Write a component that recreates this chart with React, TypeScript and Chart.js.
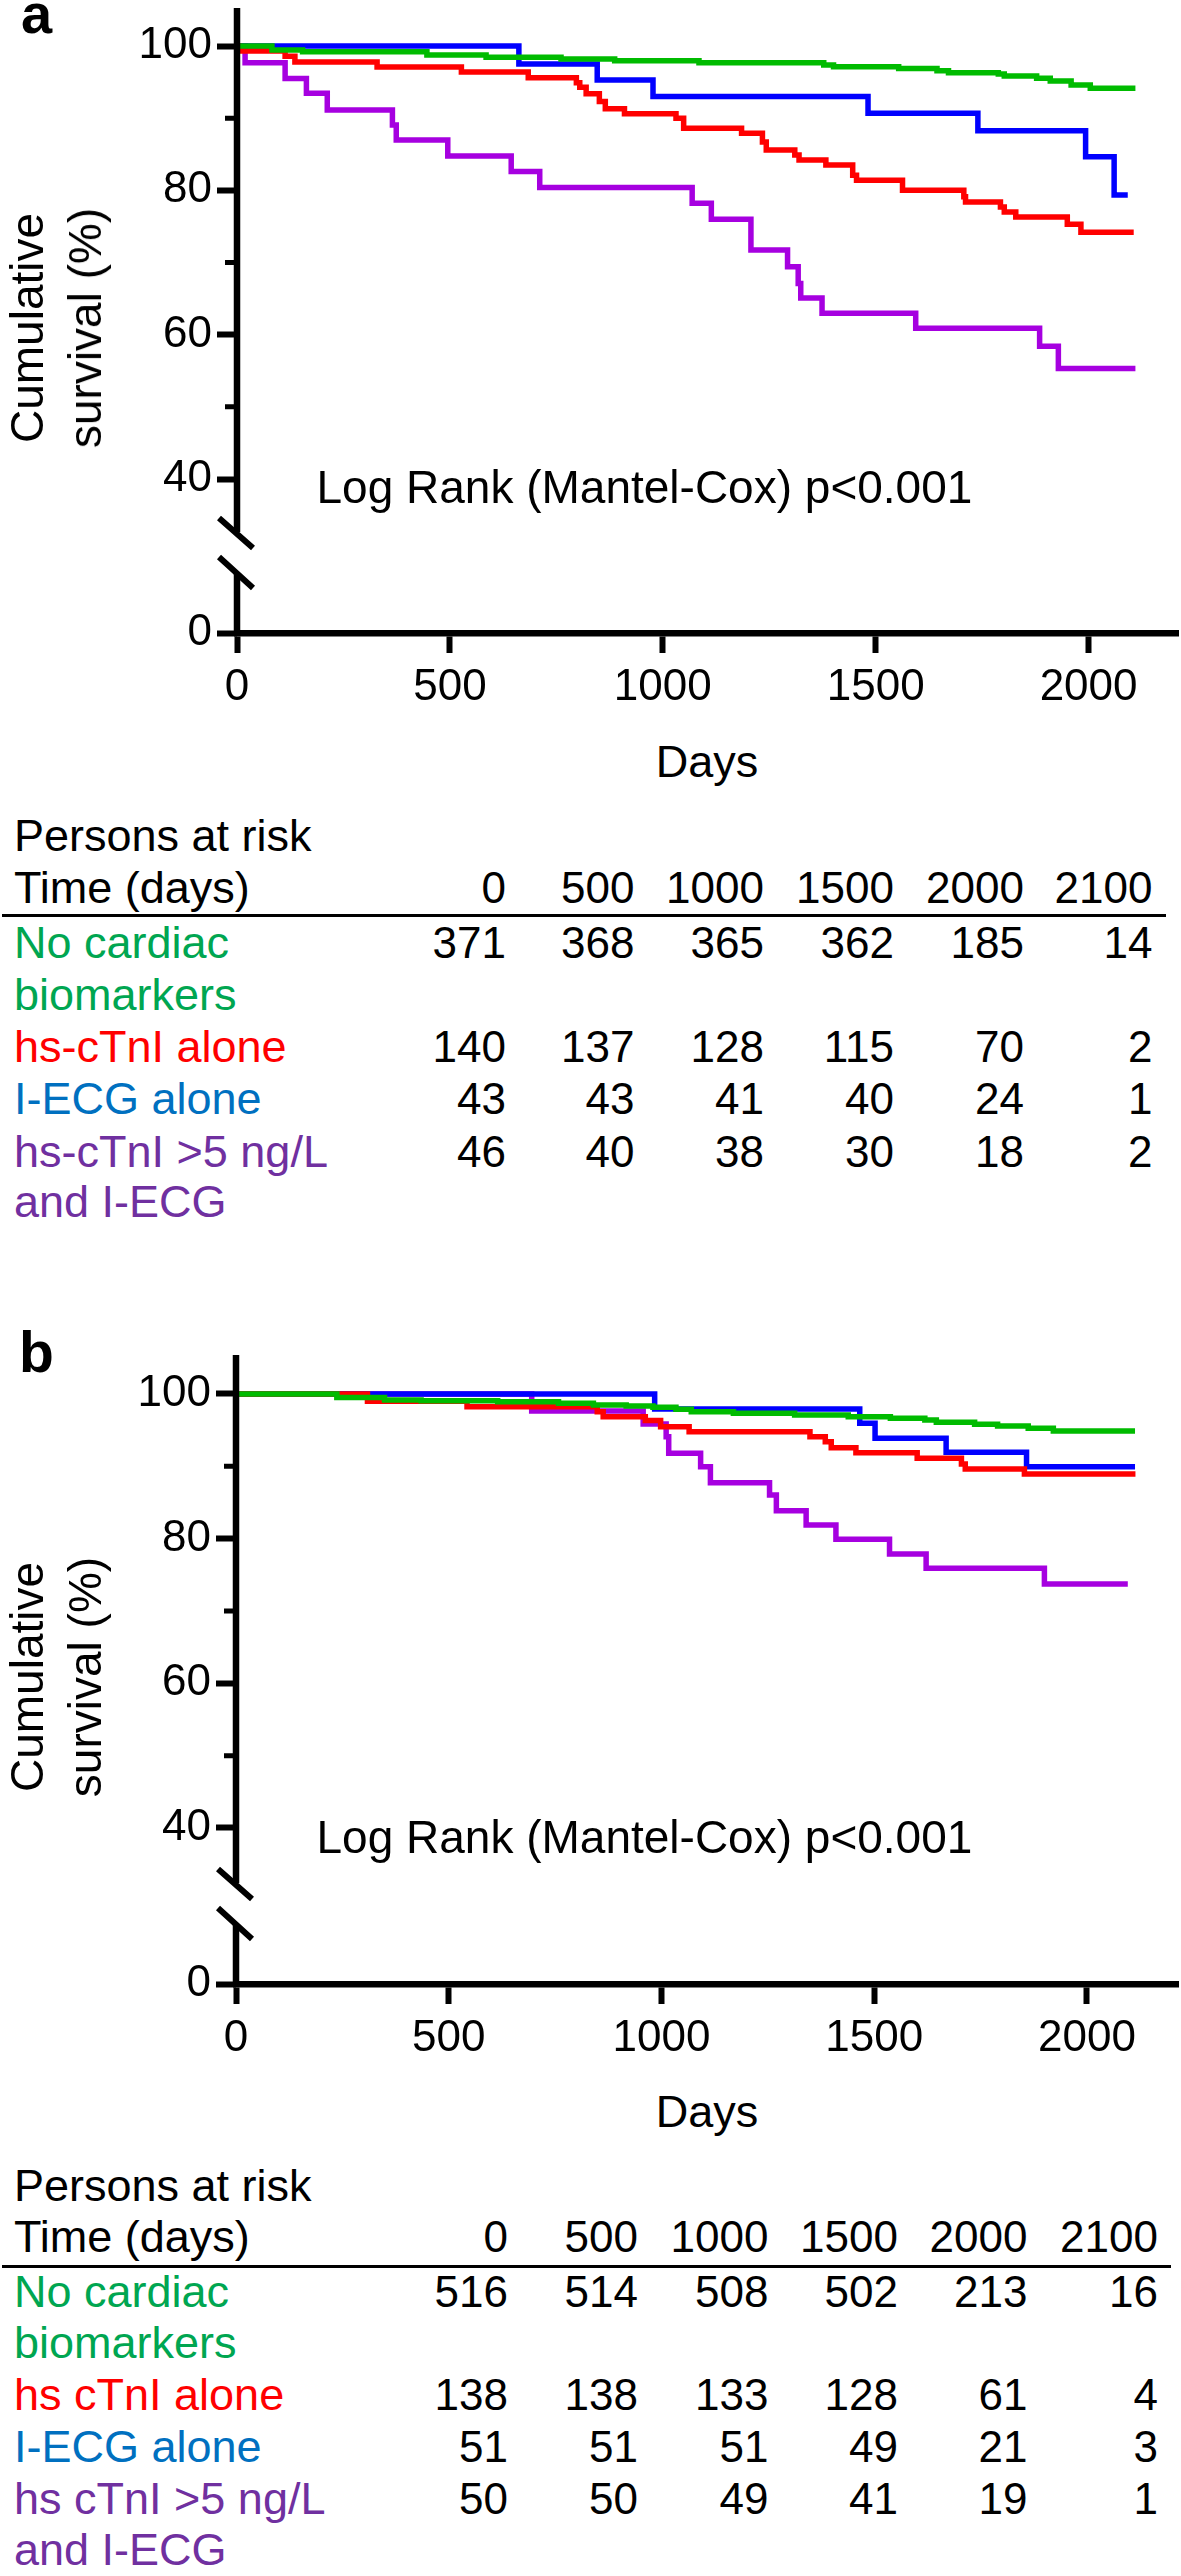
import React, { useEffect, useRef } from 'react';
import { Chart, registerables } from 'chart.js';

Chart.register(...registerables);

const FONT = '"Liberation Sans", Arial, Helvetica, sans-serif';

// ---------- axis ticks ----------
const xTickValues = [0, 500, 1000, 1500, 2000];
const yMajorTicks = [40, 60, 80, 100];
const yMinorTicks = [50, 70, 90];

// ---------- panel a survival curves (days, cumulative survival %) ----------
const aNoneDays = [0, 82, 154, 446, 585, 761, 887, 1085, 1378, 1401, 1554, 1644, 1671, 1788, 1802, 1878, 1910, 1959, 2004, 2110];
const aNoneSurv = [100, 99.45, 99.2, 98.75, 98.43, 98.2, 97.97, 97.69, 97.37, 97.14, 96.9, 96.58, 96.3, 96.12, 95.84, 95.52, 95.15, 94.6, 94.14, 94.14];

const aTnIDays = [0, 4, 113, 136, 329, 527, 684, 797, 805, 820, 851, 865, 910, 1031, 1049, 1185, 1234, 1243, 1310, 1320, 1383, 1446, 1455, 1563, 1707, 1711, 1793, 1802, 1829, 1950, 1982, 2106];
const aTnISurv = [100, 99.3, 98.6, 97.8, 97.1, 96.4, 95.6, 94.9, 94.3, 93.4, 92.3, 91.3, 90.6, 90.0, 88.6, 87.9, 86.7, 85.6, 84.9, 84.2, 83.5, 82.1, 81.4, 80.0, 79.1, 78.4, 77.7, 77.0, 76.3, 75.3, 74.2, 74.2];

const aEcgDays = [0, 662, 846, 977, 1482, 1740, 1993, 2060, 2092];
const aEcgSurv = [100, 97.5, 95.3, 93.0, 90.67, 88.27, 84.67, 79.35, 79.35];

const aBothDays = [0, 19, 113, 163, 212, 365, 374, 495, 644, 711, 1069, 1114, 1207, 1293, 1318, 1324, 1374, 1594, 1885, 1929, 2110];
const aBothSurv = [100, 97.7, 95.5, 93.45, 91.13, 89.05, 86.98, 84.76, 82.6, 80.4, 78.2, 76.0, 71.73, 69.4, 67.1, 65.1, 62.96, 60.9, 58.4, 55.3, 55.3];

// ---------- panel b survival curves ----------
const bNoneDays = [0, 237, 349, 435, 615, 758, 840, 917, 980, 1034, 1070, 1169, 1313, 1439, 1538, 1619, 1646, 1736, 1790, 1862, 1921, 2113];
const bNoneSurv = [100, 99.5, 99.17, 99.05, 98.94, 98.71, 98.48, 98.34, 98.16, 97.88, 97.56, 97.33, 97.1, 96.87, 96.64, 96.4, 96.08, 95.8, 95.58, 95.25, 94.88, 94.88];

const bTnIDays = [0, 309, 543, 849, 863, 962, 998, 1065, 1349, 1385, 1399, 1457, 1601, 1705, 1714, 1853, 2114];
const bTnISurv = [100, 98.99, 98.25, 97.56, 96.87, 96.32, 95.48, 94.79, 94.1, 93.4, 92.58, 91.89, 91.1, 90.32, 89.63, 88.94, 88.94];

const bEcgDays = [0, 984, 1466, 1502, 1669, 1858, 2113];
const bEcgSurv = [100, 97.93, 95.94, 93.87, 91.93, 89.95, 89.95];

const bBothDays = [0, 695, 957, 1011, 1017, 1092, 1115, 1254, 1270, 1340, 1410, 1536, 1622, 1900, 2096];
const bBothSurv = [100, 97.65, 95.85, 94.1, 91.8, 89.95, 87.74, 86.04, 83.87, 81.89, 79.91, 77.88, 75.9, 73.73, 73.73];

// ---------- persons at risk tables ----------
const riskTimes = ['0', '500', '1000', '1500', '2000', '2100'];
const aGroupLabels = [['No cardiac', 'biomarkers'], ['hs-cTnI alone'], ['I-ECG alone'], ['hs-cTnI >5 ng/L', 'and I-ECG']];
const aRiskNone = [371, 368, 365, 362, 185, 14];
const aRiskTnI = [140, 137, 128, 115, 70, 2];
const aRiskEcg = [43, 43, 41, 40, 24, 1];
const aRiskBoth = [46, 40, 38, 30, 18, 2];
const bGroupLabels = [['No cardiac', 'biomarkers'], ['hs cTnI alone'], ['I-ECG alone'], ['hs cTnI >5 ng/L', 'and I-ECG']];
const bRiskNone = [516, 514, 508, 502, 213, 16];
const bRiskTnI = [138, 138, 133, 128, 61, 4];
const bRiskEcg = [51, 51, 51, 49, 21, 3];
const bRiskBoth = [50, 50, 49, 41, 19, 1];

// ---------- styles ----------
const LINE_COLORS = { none: '#00bb00', tni: '#ff0000', ecg: '#0000ff', both: '#a600e0' };
const TEXT_COLORS = ['#00a651', '#ff0000', '#0070c0', '#7030a0'];

type Series = { days: number[]; surv: number[]; color: string };
type Panel = {
  canvasTop: number; height: number; chartTop: number; chartBottom: number; axisX: number;
  yMin: number; yMax: number; xMax: number; series: Series[];
};

const panelA: Panel = {
  canvasTop: 0, height: 720, chartTop: 8, chartBottom: 633, axisX: 237,
  yMin: 18.66, yMax: 105.27, xMax: 2210,
  series: [
    { days: aNoneDays, surv: aNoneSurv, color: LINE_COLORS.none },
    { days: aTnIDays, surv: aTnISurv, color: LINE_COLORS.tni },
    { days: aEcgDays, surv: aEcgSurv, color: LINE_COLORS.ecg },
    { days: aBothDays, surv: aBothSurv, color: LINE_COLORS.both },
  ],
};

const panelB: Panel = {
  canvasTop: 1347, height: 720, chartTop: 8, chartBottom: 637, axisX: 236,
  yMin: 18.43, yMax: 105.39, xMax: 2214,
  series: [
    { days: bNoneDays, surv: bNoneSurv, color: LINE_COLORS.none },
    { days: bTnIDays, surv: bTnISurv, color: LINE_COLORS.tni },
    { days: bEcgDays, surv: bEcgSurv, color: LINE_COLORS.ecg },
    { days: bBothDays, surv: bBothSurv, color: LINE_COLORS.both },
  ],
};

const W = 1181;
const AXIS_RIGHT = 1178;

const axisDeco = {
  id: 'axisDeco',
  afterDatasetsDraw(chart: any) {
    const { ctx, chartArea } = chart;
    const y = chart.scales.y;
    const x0 = y.right;
    const zero = y.getPixelForValue(y.min);
    ctx.save();
    ctx.strokeStyle = '#000';
    ctx.lineCap = 'butt';
    // broken y axis line
    ctx.lineWidth = 6.5;
    ctx.beginPath();
    ctx.moveTo(x0, chartArea.top);
    ctx.lineTo(x0, zero - 101);
    ctx.moveTo(x0, zero - 60);
    ctx.lineTo(x0, zero + 3);
    ctx.stroke();
    // break slashes
    ctx.lineWidth = 6;
    ctx.beginPath();
    ctx.moveTo(x0 - 18, zero - 115);
    ctx.lineTo(x0 + 16, zero - 85);
    ctx.moveTo(x0 - 18, zero - 76);
    ctx.lineTo(x0 + 16, zero - 45);
    ctx.stroke();
    // minor ticks
    ctx.lineWidth = 5;
    ctx.beginPath();
    for (const v of yMinorTicks) {
      const py = y.getPixelForValue(v);
      ctx.moveTo(x0 - 12, py);
      ctx.lineTo(x0, py);
    }
    ctx.stroke();
    ctx.restore();
  },
};

function makeChart(canvas: HTMLCanvasElement, p: Panel) {
  const H = p.height;
  const yTicks = [p.yMin, 40, 50, 60, 70, 80, 90, 100];
  return new Chart(canvas, {
    type: 'line',
    data: {
      datasets: p.series.map((s) => ({
        data: s.days.map((d, i) => ({ x: d, y: s.surv[i] })),
        borderColor: s.color,
        backgroundColor: s.color,
        borderWidth: 5.5,
        pointRadius: 0,
        pointHoverRadius: 0,
        stepped: 'before',
        fill: false,
        tension: 0,
        borderCapStyle: 'butt',
        borderJoinStyle: 'miter',
      })),
    } as any,
    options: {
      responsive: false,
      animation: false,
      devicePixelRatio: 1,
      events: [],
      layout: { padding: { top: p.chartTop, right: W - AXIS_RIGHT, bottom: 0, left: 0 } },
      plugins: { legend: { display: false }, tooltip: { enabled: false }, title: { display: false } },
      scales: {
        x: {
          type: 'linear',
          min: 0,
          max: p.xMax,
          afterBuildTicks: (s: any) => { s.ticks = xTickValues.map((v) => ({ value: v })); },
          afterFit: (s: any) => { s.height = H - p.chartBottom; s.paddingLeft = 0; s.paddingRight = 0; },
          ticks: {
            autoSkip: false, maxRotation: 0, minRotation: 0, padding: 8, color: '#000',
            font: { family: FONT, size: 44 },
            callback: (v: any) => String(v),
          },
          grid: { display: true, drawOnChartArea: false, drawTicks: true, tickLength: 20, tickWidth: 6, tickColor: '#000' },
          border: { display: true, color: '#000', width: 6.5 },
        },
        y: {
          type: 'linear',
          min: p.yMin,
          max: p.yMax,
          afterBuildTicks: (s: any) => { s.ticks = yTicks.map((v) => ({ value: v })); },
          afterFit: (s: any) => { s.width = p.axisX; s.paddingTop = 0; s.paddingBottom = 0; },
          ticks: {
            autoSkip: false, padding: 5, color: '#000',
            font: { family: FONT, size: 44 },
            callback: (v: any) => (v === p.yMin ? '0' : yMajorTicks.includes(v) ? String(v) : ''),
          },
          grid: {
            display: true, drawOnChartArea: false, drawTicks: true, tickLength: 20, tickWidth: 6,
            tickColor: (c: any) => {
              const v = c.tick ? c.tick.value : null;
              return v === p.yMin || yMajorTicks.includes(v) ? '#000' : 'rgba(0,0,0,0)';
            },
          },
          border: { display: false },
        },
      },
    } as any,
    plugins: [axisDeco as any],
  });
}

function Txt(props: { x: number; base: number; size: number; children: any; color?: string; align?: 'left' | 'right' | 'center'; bold?: boolean }) {
  const { x, base, size, children, color = '#000', align = 'left', bold = false } = props;
  const style: any = {
    position: 'absolute', top: base - 0.8465 * size, fontSize: size, lineHeight: `${size}px`,
    whiteSpace: 'nowrap', color, fontWeight: bold ? 'bold' : 'normal', fontFamily: FONT,
  };
  if (align === 'left') style.left = x;
  else if (align === 'right') style.right = W - x;
  else { style.left = x - 300; style.width = 600; style.textAlign = 'center'; }
  return <div style={style}>{children}</div>;
}

function RotTxt(props: { cx: number; cy: number; size: number; children: any }) {
  const { cx, cy, size, children } = props;
  return (
    <div style={{
      position: 'absolute', left: cx, top: cy, fontSize: size, lineHeight: `${size}px`, whiteSpace: 'nowrap',
      fontFamily: FONT, color: '#000', transform: 'translate(-50%, -50%) rotate(-90deg)',
    }}>{children}</div>
  );
}

type TableLayout = {
  personsBase: number; timeBase: number; ruleTop: number; ruleRight: number;
  rowBases: number[]; colRights: number[];
};

function RiskTable(props: { lay: TableLayout; labels: string[][]; rows: number[][] }) {
  const { lay, labels, rows } = props;
  const out: any[] = [];
  out.push(<Txt key="p" x={14} base={lay.personsBase} size={45}>Persons at risk</Txt>);
  out.push(<Txt key="t" x={14} base={lay.timeBase} size={45}>Time (days)</Txt>);
  riskTimes.forEach((t, j) => out.push(<Txt key={'h' + j} x={lay.colRights[j]} base={lay.timeBase} size={44} align="right">{t}</Txt>));
  out.push(<div key="rule" style={{ position: 'absolute', left: 2, top: lay.ruleTop, width: lay.ruleRight - 2, height: 3, background: '#000' }} />);
  let k = 0;
  labels.forEach((lines, i) => {
    lines.forEach((ln, li) => {
      out.push(<Txt key={'l' + i + '_' + li} x={14} base={lay.rowBases[k + li]} size={45} color={TEXT_COLORS[i]}>{ln}</Txt>);
    });
    rows[i].forEach((v, j) => out.push(<Txt key={'n' + i + '_' + j} x={lay.colRights[j]} base={lay.rowBases[k]} size={44} align="right">{String(v)}</Txt>));
    k += lines.length;
  });
  return <>{out}</>;
}

const tableA: TableLayout = {
  personsBase: 851, timeBase: 903, ruleTop: 913.5, ruleRight: 1166,
  rowBases: [958.5, 1010, 1062, 1114, 1167, 1217.5],
  colRights: [506, 634.5, 764, 894, 1024, 1152.5],
};
const tableB: TableLayout = {
  personsBase: 2201.5, timeBase: 2252.5, ruleTop: 2264.5, ruleRight: 1171,
  rowBases: [2307, 2358, 2410, 2462, 2514, 2565],
  colRights: [508, 638, 768.5, 898, 1027.5, 1158],
};

export default function App() {
  const refA = useRef<HTMLCanvasElement>(null);
  const refB = useRef<HTMLCanvasElement>(null);
  useEffect(() => {
    const ca = makeChart(refA.current!, panelA);
    const cb = makeChart(refB.current!, panelB);
    return () => { ca.destroy(); cb.destroy(); };
  }, []);
  return (
    <div style={{ position: 'absolute', left: 0, top: 0, width: W, height: 2576, background: '#fff', overflow: 'hidden', fontFamily: FONT }}>
      <canvas ref={refA} width={W} height={panelA.height} style={{ position: 'absolute', left: 0, top: panelA.canvasTop }} />
      <canvas ref={refB} width={W} height={panelB.height} style={{ position: 'absolute', left: 0, top: panelB.canvasTop }} />

      {/* Panel a texts */}
      <Txt x={21} base={33} size={56} bold>a</Txt>
      <RotTxt cx={27} cy={328} size={46}>Cumulative</RotTxt>
      <RotTxt cx={85} cy={328} size={46}>survival (%)</RotTxt>
      <Txt x={316.5} base={503} size={46}>Log Rank (Mantel-Cox) p&lt;0.001</Txt>
      <Txt x={707} base={777} size={45} align="center">Days</Txt>
      <RiskTable lay={tableA} labels={aGroupLabels} rows={[aRiskNone, aRiskTnI, aRiskEcg, aRiskBoth]} />

      {/* Panel b texts */}
      <Txt x={19} base={1372} size={57} bold>b</Txt>
      <RotTxt cx={27} cy={1677} size={46}>Cumulative</RotTxt>
      <RotTxt cx={85} cy={1677} size={46}>survival (%)</RotTxt>
      <Txt x={316.5} base={1853} size={46}>Log Rank (Mantel-Cox) p&lt;0.001</Txt>
      <Txt x={707} base={2127.5} size={45} align="center">Days</Txt>
      <RiskTable lay={tableB} labels={bGroupLabels} rows={[bRiskNone, bRiskTnI, bRiskEcg, bRiskBoth]} />
    </div>
  );
}
